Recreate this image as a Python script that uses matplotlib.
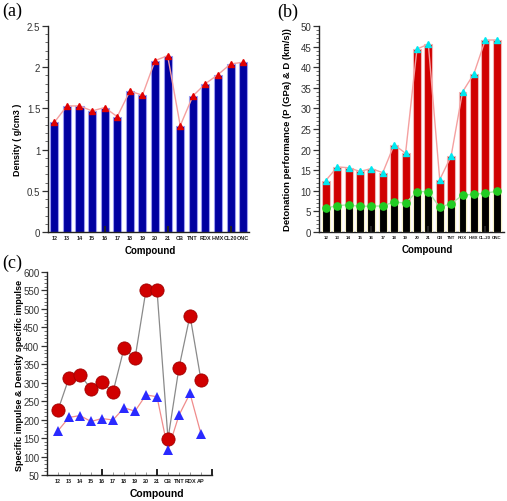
import matplotlib
matplotlib.use("Agg")
import matplotlib.pyplot as plt
from matplotlib.ticker import MultipleLocator

plt.rcParams['font.family'] = ['Liberation Sans', 'DejaVu Sans']

# ---------------- data ----------------
cats_ab = ['12', '13', '14', '15', '16', '17', '18', '19', '20', '21',
           'CB', 'TNT', 'RDX', 'HMX', 'CL20', 'ONC']
cats_b = ['12', '13', '14', '15', '16', '17', '18', '19', '20', '21',
          'CB', 'TNT', 'RDX', 'HMX', 'CL-20', 'ONC']
density = [1.33, 1.53, 1.53, 1.47, 1.51, 1.40, 1.71, 1.66, 2.08, 2.14,
           1.29, 1.65, 1.80, 1.91, 2.04, 2.06]
pressure = [12.5, 15.8, 15.6, 14.7, 15.4, 14.4, 21.2, 19.1, 44.4, 45.6,
            12.7, 18.4, 34.0, 38.4, 46.6, 46.6]
velocity = [5.8, 6.4, 6.6, 6.2, 6.3, 6.3, 7.3, 7.0, 9.8, 9.8,
            6.0, 6.9, 8.9, 9.2, 9.4, 9.9]
cats_c = ['12', '13', '14', '15', '16', '17', '18', '19', '20', '21',
          'CB', 'TNT', 'RDX', 'AP']
density_isp = [226, 313, 321, 284, 301, 275, 393, 366, 551, 551,
               148, 341, 482, 307]
isp = [170, 206, 211, 195, 203, 199, 232, 223, 267, 262,
       118, 212, 271, 161]
heavy_ticks = [5, 10, 15]

W, H = 507, 502
fig = plt.figure(figsize=(W / 100, H / 100), dpi=100)


def px_axes(left, top, right, bottom):
    return fig.add_axes([left / W, 1 - bottom / H, (right - left) / W, (bottom - top) / H])


def style(ax, cats, major_y, minor_y, xfs):
    for s in ['top', 'right']:
        ax.spines[s].set_visible(False)
    for s in ['left', 'bottom']:
        ax.spines[s].set_linewidth(1.0)
        ax.spines[s].set_color('#222222')
    pos = list(range(1, len(cats) + 1))
    ax.set_xticks(pos)
    ax.set_xticklabels(cats, fontsize=xfs, fontweight='bold', color='#222222')
    ax.tick_params(axis='x', which='major', direction='in', length=2, width=0.6, color='#888888', pad=2)
    tr = ax.get_xaxis_transform()
    for t in heavy_ticks:
        ax.plot([t, t], [0, 0.028], transform=tr, color='#222222', lw=1.4,
                clip_on=False, zorder=6, solid_capstyle='butt')
    ax.yaxis.set_major_locator(MultipleLocator(major_y))
    ax.yaxis.set_minor_locator(MultipleLocator(minor_y))
    ax.tick_params(axis='y', which='major', direction='out', length=4, width=0.9,
                   labelsize=7, colors='#333333', pad=1.5)
    ax.tick_params(axis='y', which='minor', direction='out', length=2, width=0.6, color='#555555')


# ---------------- (a) ----------------
axa = px_axes(48, 27, 249.5, 233)
xa = list(range(1, len(cats_ab) + 1))
axa.bar(xa, density, width=0.64, color='#0000a0', edgecolor='#9c9cf0', linewidth=0.8, zorder=2)
axa.plot(xa, density, color='#f5a0a0', lw=1.0, zorder=3)
axa.plot(xa, density, ls='none', marker='^', ms=4.5, color='#e00000', zorder=4)
axa.set_xlim(0.5, 16.5)
axa.set_ylim(0, 2.5)
style(axa, cats_ab, 0.5, 0.1, 4.0)
axa.yaxis.set_major_formatter(plt.FuncFormatter(lambda v, p: '%g' % v))
fig.text(18 / W, 1 - 140 / H, 'Density ( g/cm3 )', rotation=90, ha='center', va='center',
         fontsize=6.5, fontweight='bold')
fig.text(150 / W, 1 - 251 / H, 'Compound', ha='center', va='center', fontsize=7, fontweight='bold')

# ---------------- (b) ----------------
axb = px_axes(319, 27, 503.5, 233)
axb.bar(xa, pressure, width=0.7, color='#d00000', edgecolor='#f2b4b4', linewidth=0.8, zorder=2)
axb.bar(xa, velocity, width=0.7, color='#000000', edgecolor='#f4f0c8', linewidth=0.8, zorder=3)
axb.plot(xa, pressure, color='#f5a0a0', lw=1.0, zorder=4)
axb.plot(xa, velocity, color='#a8e8a8', lw=1.0, zorder=4)
axb.plot(xa, pressure, ls='none', marker='^', ms=4.2, color='#00e8f0', zorder=5)
axb.plot(xa, velocity, ls='none', marker='o', ms=5.2, color='#22cc22', zorder=5)
axb.set_xlim(0.4, 16.6)
axb.set_ylim(0, 50)
style(axb, cats_b, 5, 1, 3.2)
fig.text(288 / W, 1 - 130 / H, 'Detonation performance (P (GPa) & D (km/s))', rotation=90,
         ha='center', va='center', fontsize=6.8, fontweight='bold')
fig.text(427 / W, 1 - 250 / H, 'Compound', ha='center', va='center', fontsize=7, fontweight='bold')

# ---------------- (c) ----------------
axc = px_axes(47, 273, 212, 476)
xc = list(range(1, len(cats_c) + 1))
axc.plot(xc, density_isp, color='#8a8a8a', lw=0.9, zorder=2)
axc.plot(xc, isp, color='#f08c8c', lw=0.9, zorder=2)
axc.plot(xc, density_isp, ls='none', marker='o', ms=9.5, color='#d00000',
         markeredgecolor='#a00000', markeredgewidth=0.6, zorder=3)
axc.plot(xc, isp, ls='none', marker='^', ms=7.5, color='#2a2aff', markeredgewidth=0, zorder=3)
axc.set_xlim(0, 15)
axc.set_ylim(50, 600)
style(axc, cats_c, 50, 10, 4.0)
fig.text(20 / W, 1 - 375 / H, 'Specific impulse & Density specific impulse', rotation=90,
         ha='center', va='center', fontsize=6.6, fontweight='bold')
fig.text(157 / W, 1 - 494 / H, 'Compound', ha='center', va='center', fontsize=7.5, fontweight='bold')

# ---------------- panel labels ----------------
for lbl, x, y in [('(a)', 12, 11), ('(b)', 288, 12), ('(c)', 12, 263)]:
    fig.text(x / W, 1 - y / H, lbl, ha='center', va='center', fontsize=13,
             family=['Liberation Serif', 'DejaVu Serif'])

fig.savefig('out.png', dpi=100)
